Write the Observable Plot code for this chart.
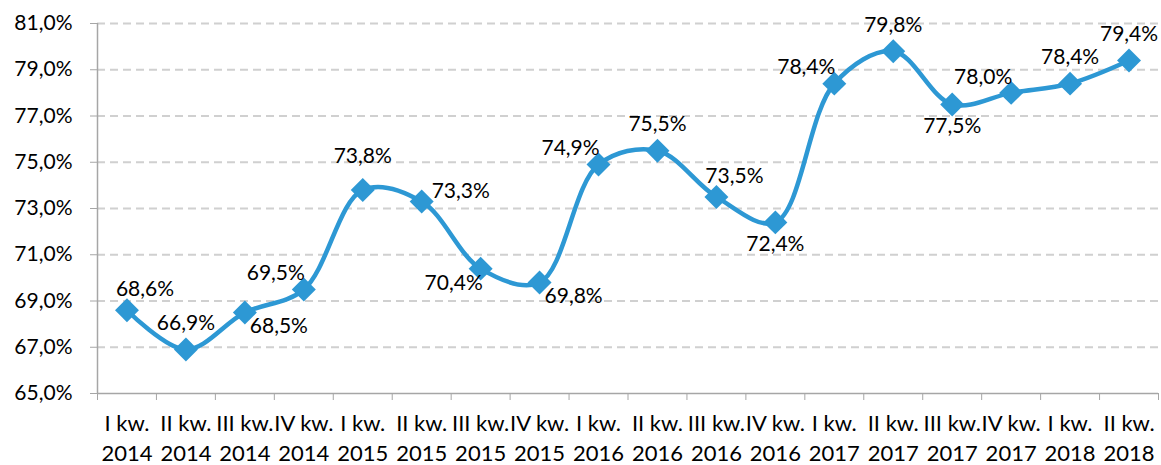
<!DOCTYPE html>
<html>
<head>
<meta charset="utf-8">
<script src="https://cdn.jsdelivr.net/npm/d3@7"></script>
<script src="https://cdn.jsdelivr.net/npm/@observablehq/plot@0.6"></script>
<style>
  html, body { margin: 0; padding: 0; background: #fff; }
</style>
</head>
<body>
<div id="chart"></div>
<script>
const quarters = ["I kw.", "II kw.", "III kw.", "IV kw.", "I kw.", "II kw.", "III kw.", "IV kw.", "I kw.", "II kw.", "III kw.", "IV kw.", "I kw.", "II kw.", "III kw.", "IV kw.", "I kw.", "II kw."];
const years = ["2014", "2014", "2014", "2014", "2015", "2015", "2015", "2015", "2016", "2016", "2016", "2016", "2017", "2017", "2017", "2017", "2018", "2018"];
const values = [68.6, 66.9, 68.5, 69.5, 73.8, 73.3, 70.4, 69.8, 74.9, 75.5, 73.5, 72.4, 78.4, 79.8, 77.5, 78.0, 78.4, 79.4];
const labelPlacement = ["above-right", "above", "below-right", "above-left", "above-high", "right", "below-left", "below-right", "above-left", "above", "above-right", "below", "above-left", "above", "below", "above-left", "above", "above"];
const yTicks = [65, 67, 69, 71, 73, 75, 77, 79, 81];

const offsets = {
  "above": [0, -26],
  "above-high": [0, -34],
  "above-right": [18, -21],
  "above-left": [-28, -16],
  "below-right": [34, 14],
  "below-left": [-27, 15],
  "below": [0, 22],
  "right": [39, -10]
};

const blue = "#2d98d4";
const grey = "#a6a6a6";
const fmt = v => v.toFixed(1).replace(".", ",") + "%";
const xi = (d, i) => i + 0.5;

const chart = Plot.plot({
  width: 1161,
  height: 465,
  marginLeft: 97,
  marginRight: 3,
  marginTop: 23,
  marginBottom: 72,
  x: { type: "linear", domain: [0, quarters.length] },
  y: { domain: [65, 81] },
  style: { fontFamily: "Lato, 'Open Sans', sans-serif", fontSize: "22px", color: "#000", background: "#fff" },
  marks: [
    Plot.gridY(yTicks.slice(1), { stroke: "#d0d0d0", strokeOpacity: 1, strokeWidth: 2, strokeDasharray: "8,5" }),
    Plot.ruleX([0], { stroke: grey, strokeWidth: 1.5 }),
    Plot.ruleY([65], { stroke: grey, strokeWidth: 1.5 }),
    Plot.axisY({ ticks: yTicks, tickSize: 7, tickFormat: () => "", color: grey, label: null }),
    Plot.axisY({ ticks: yTicks, tickSize: 0, tickPadding: 25, tickFormat: fmt, fontSize: 21, color: "#000", label: null }),
    Plot.axisX({ ticks: d3.range(quarters.length + 1), tickSize: 7, tickFormat: () => "", color: grey, label: null }),
    Plot.text(quarters, {
      x: xi, frameAnchor: "bottom", text: (d, i) => d + "\n" + years[i],
      lineAnchor: "top", lineHeight: 1.38, dy: 16, fontSize: 22, fill: "#000"
    }),
    Plot.line(values, { x: xi, y: d => d, curve: "catmull-rom", stroke: blue, strokeWidth: 4.5 }),
    Plot.dot(values, { x: xi, y: d => d, symbol: "diamond2", r: 10.8, fill: blue, stroke: "none" }),
    ...Object.keys(offsets).map(k => Plot.text(
      values.map((v, i) => ({ v, i })).filter(o => labelPlacement[o.i] === k),
      { x: o => o.i + 0.5, y: o => o.v, text: o => fmt(o.v), dx: offsets[k][0], dy: offsets[k][1], fontSize: 21, fill: "#000" }
    ))
  ]
});
document.getElementById("chart").appendChild(chart);
</script>
</body>
</html>
